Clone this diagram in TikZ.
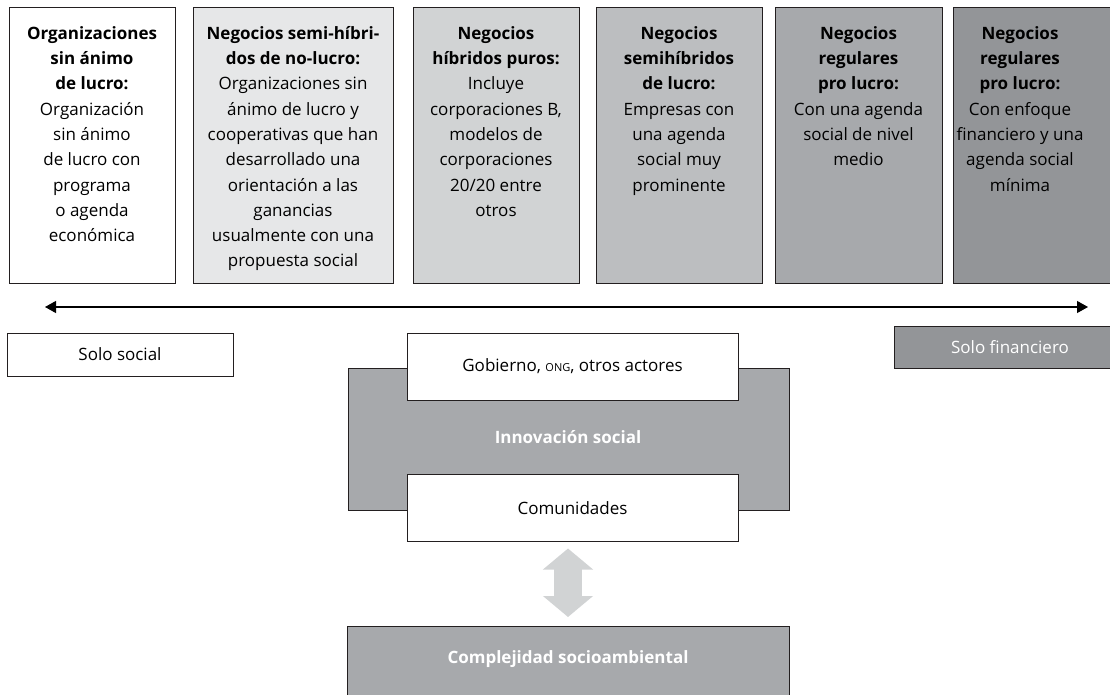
\documentclass[tikz,border=0pt]{standalone}
\usepackage{fontspec}
\setmainfont{Open Sans}
\usetikzlibrary{arrows.meta}
\definecolor{g10}{HTML}{E6E7E8}
\definecolor{g20}{HTML}{D1D3D4}
\definecolor{g30}{HTML}{BCBEC0}
\definecolor{g40}{HTML}{A7A9AC}
\definecolor{g50}{HTML}{939598}
\definecolor{edge}{HTML}{231F20}
\tikzset{
  box/.style={draw=edge, line width=0.9pt, inner sep=0pt, outer sep=0pt},
  txt/.style={inner sep=0pt, align=center, font=\fontsize{17}{25.3}\selectfont},
  lbl/.style={inner sep=0pt, font=\fontsize{17}{20}\selectfont},
}
\begin{document}
\begin{tikzpicture}[x=1pt,y=-1pt]
\useasboundingbox (0,0) rectangle (1110,695);
% top boxes
\node[box, fill=white, minimum width=166, minimum height=276] (b1) at (92,145) {};
\node[box, fill=g10, minimum width=200, minimum height=276] (b2) at (293,145) {};
\node[box, fill=g20, minimum width=166, minimum height=276] (b3) at (496,145) {};
\node[box, fill=g30, minimum width=166, minimum height=276] (b4) at (679,145) {};
\node[box, fill=g40, minimum width=167, minimum height=276] (b5) at (858.5,145) {};
\node[box, fill=g50, minimum width=170, minimum height=276] (b6) at (1038,145) {};
\node[txt, anchor=north] (t1) at ([yshift=-14.3pt]b1.north) {\strut\textbf{Organizaciones}\\\textbf{sin ánimo}\\\textbf{de lucro:}\\Organización\\sin ánimo\\de lucro con\\programa\\o agenda\\económica};
\node[txt, anchor=north] (t2) at ([yshift=-14.3pt]b2.north) {\strut\textbf{Negocios semi-híbri-}\\\textbf{dos de no-lucro:}\\Organizaciones sin\\ánimo de lucro y\\cooperativas que han\\desarrollado una\\orientación a las\\ganancias\\usualmente con una\\propuesta social};
\node[txt, anchor=north] (t3) at ([yshift=-14.3pt]b3.north) {\strut\textbf{Negocios}\\\textbf{híbridos puros:}\\Incluye\\corporaciones B,\\modelos de\\corporaciones\\20/20 entre\\otros};
\node[txt, anchor=north] (t4) at ([yshift=-14.3pt]b4.north) {\strut\textbf{Negocios}\\\textbf{semihíbridos}\\\textbf{de lucro:}\\Empresas con\\una agenda\\social muy\\prominente};
\node[txt, anchor=north] (t5) at ([yshift=-14.3pt]b5.north) {\strut\textbf{Negocios}\\\textbf{regulares}\\\textbf{pro lucro:}\\Con una agenda\\social de nivel\\medio};
\node[txt, anchor=north] (t6) at (1020,21.3) {\strut\textbf{Negocios}\\\textbf{regulares}\\\textbf{pro lucro:}\\Con enfoque\\financiero y una\\agenda social\\mínima};
% axis arrow
\coordinate (L) at (45,307);
\coordinate (R) at (1088,307);
\draw[line width=1.2pt, {Triangle[length=11pt,width=12pt]}-{Triangle[length=11pt,width=12pt]}] (L) -- (R);
% extremes
\node[box, fill=white, minimum width=226, minimum height=43] (ss) at (120,354.5) {};
\node[lbl] at (ss.center) {Solo social};
\node[box, fill=g50, minimum width=226, minimum height=42] (sf) at (1007,347) {};
\node[lbl, text=white] at (1010,347) {Solo financiero};
% innovation block
\node[box, fill=g40, minimum width=441, minimum height=142] (inn) at (568.5,439) {};
\node[lbl, text=white, font=\fontsize{17}{20}\selectfont\bfseries] (innt) at (568,437) {Innovación social};
\node[box, fill=white, minimum width=331, minimum height=67] (gob) at (572.5,366.5) {};
\node[lbl] at (gob.center) {Gobierno, {\fontsize{11}{12}\selectfont ONG}, otros actores};
\node[box, fill=white, minimum width=331, minimum height=67] (com) at (572.5,508) {};
\node[lbl] at (com.center) {Comunidades};
% complexity
\node[box, fill=g40, minimum width=442, minimum height=76] (comp) at (568,664) {};
\node[lbl, text=white, font=\fontsize{17}{20}\selectfont\bfseries] at (568,659) {Complejidad socioambiental};
% double arrow
\draw[g20, line width=28pt, shorten <=7pt, shorten >=9pt, {Triangle[length=21pt,width=49pt]}-{Triangle[length=21pt,width=49pt]}] (com.south -| comp.north) -- (comp.north);
\end{tikzpicture}
\end{document}
